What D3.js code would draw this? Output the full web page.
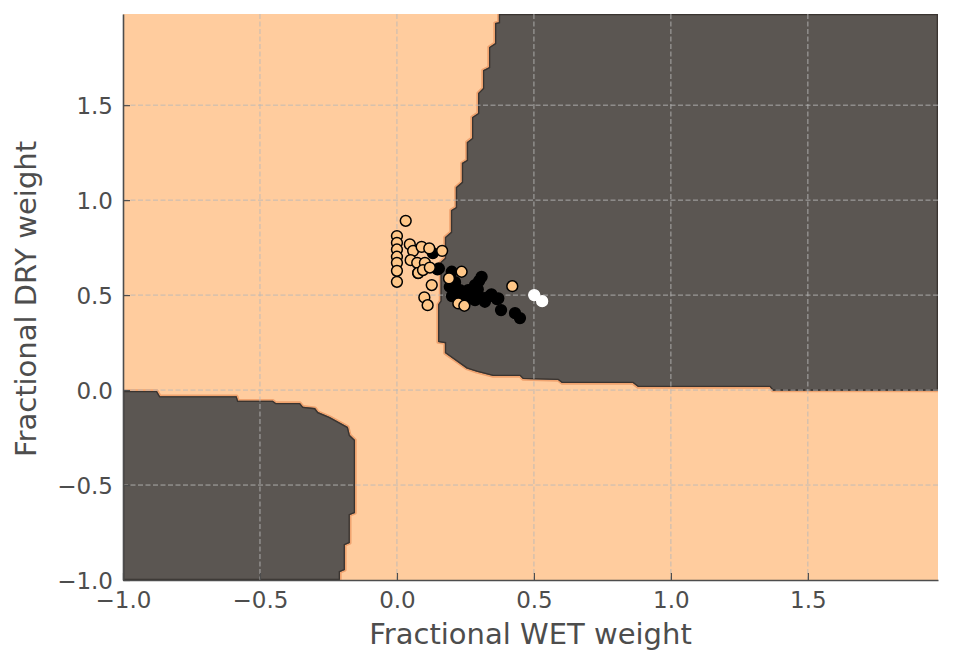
<!DOCTYPE html>
<html>
<head>
<meta charset="utf-8">
<script src="https://cdn.jsdelivr.net/npm/d3@7"></script>
<style>
  body { margin: 0; background: #fff; }
  text { font-family: "DejaVu Sans", sans-serif; fill: #4d4d4d; }
</style>
</head>
<body>
<svg width="953" height="665"></svg>
<script>
// decision regions (data units)
const upperRegion = [
  [0.372, 1.98], [0.372, 1.937], [0.358, 1.932], [0.358, 1.826], [0.336, 1.805],
  [0.336, 1.700], [0.314, 1.684], [0.314, 1.589], [0.296, 1.563], [0.296, 1.458],
  [0.274, 1.437], [0.274, 1.326], [0.255, 1.305], [0.255, 1.211], [0.237, 1.195],
  [0.237, 1.095], [0.215, 1.068], [0.215, 0.963], [0.197, 0.947], [0.197, 0.832],
  [0.175, 0.805], [0.175, 0.695], [0.159, 0.674], [0.159, 0.470], [0.150, 0.450],
  [0.150, 0.253], [0.175, 0.247], [0.175, 0.195], [0.254, 0.114], [0.291, 0.096],
  [0.351, 0.074], [0.449, 0.074], [0.460, 0.058], [0.588, 0.053], [0.602, 0.037],
  [0.861, 0.037], [0.880, 0.016], [1.361, 0.016], [1.372, -0.003], [1.975, -0.003],
  [1.975, 1.98]
];
const lowerRegion = [
  [-1, -1], [-1, -0.005], [-0.876, -0.005], [-0.865, -0.032], [-0.585, -0.032],
  [-0.580, -0.056], [-0.453, -0.056], [-0.442, -0.068], [-0.354, -0.068],
  [-0.343, -0.088], [-0.299, -0.095], [-0.288, -0.116], [-0.245, -0.142],
  [-0.179, -0.195], [-0.172, -0.237], [-0.153, -0.263], [-0.153, -0.647],
  [-0.172, -0.658], [-0.172, -0.805], [-0.190, -0.816], [-0.190, -0.947],
  [-0.208, -0.958], [-0.208, -1]
];

// samples: [wet, dry]
const blackPoints = [
  [0.077, 0.616], [0.131, 0.721], [0.148, 0.635], [0.153, 0.640], [0.200, 0.623],
  [0.193, 0.544], [0.212, 0.568], [0.201, 0.495], [0.224, 0.491], [0.230, 0.526],
  [0.242, 0.500], [0.248, 0.463], [0.255, 0.495], [0.260, 0.526], [0.285, 0.553],
  [0.285, 0.474], [0.291, 0.483], [0.300, 0.575], [0.309, 0.596], [0.318, 0.484],
  [0.321, 0.465], [0.339, 0.495], [0.345, 0.504], [0.365, 0.479], [0.370, 0.483],
  [0.380, 0.421], [0.431, 0.405], [0.449, 0.379], [0.270, 0.510], [0.295, 0.530]
];
const orangePoints = [
  [0.032, 0.891],
  [0.0, 0.811], [0.0, 0.775], [0.0, 0.740], [0.0, 0.702], [0.0, 0.670], [0.0, 0.628], [0.0, 0.570],
  [0.047, 0.767], [0.059, 0.733], [0.090, 0.754], [0.118, 0.746], [0.165, 0.733],
  [0.050, 0.684], [0.074, 0.670], [0.102, 0.670], [0.078, 0.617], [0.095, 0.632], [0.120, 0.645],
  [0.127, 0.553], [0.100, 0.488], [0.112, 0.447],
  [0.190, 0.588], [0.236, 0.623], [0.421, 0.547], [0.224, 0.456], [0.246, 0.444]
];
const whitePoints = [[0.501, 0.500], [0.530, 0.468]];

const xTicks = [-1.0, -0.5, 0.0, 0.5, 1.0, 1.5];
const yTicks = [-1.0, -0.5, 0.0, 0.5, 1.0, 1.5];
const xDomain = [-1, 1.975];
const yDomain = [-1, 1.98];

const svg = d3.select("svg");
const width = +svg.attr("width");
const height = +svg.attr("height");
const margin = { top: 14, right: 15, bottom: 85, left: 123 };
const innerWidth = width - margin.left - margin.right;
const innerHeight = height - margin.top - margin.bottom;

const xScale = d3.scaleLinear().domain(xDomain).range([0, innerWidth]);
const yScale = d3.scaleLinear().domain(yDomain).range([innerHeight, 0]);

const g = svg.append("g").attr("transform", `translate(${margin.left},${margin.top})`);

const defs = svg.append("defs");
defs.append("clipPath").attr("id", "plot-clip")
  .append("rect").attr("width", innerWidth).attr("height", innerHeight);

const line = d3.line().x(d => xScale(d[0])).y(d => yScale(d[1]));
const regionPath = pts => line(pts) + "Z";

const plotG = g.append("g").attr("clip-path", "url(#plot-clip)");

plotG.append("rect")
  .attr("width", innerWidth)
  .attr("height", innerHeight)
  .attr("fill", "#ffcc9e");

[upperRegion, lowerRegion].forEach((region, i) => {
  defs.append("clipPath").attr("id", `region-clip-${i}`)
    .append("path").attr("d", regionPath(region));

  plotG.append("path")
    .attr("d", regionPath(region))
    .attr("fill", "#5b5652")
    .attr("stroke", "#f0a36f")
    .attr("stroke-width", 3.4)
    .attr("stroke-linejoin", "round")
    .style("paint-order", "stroke");

  plotG.append("path")
    .attr("d", regionPath(region))
    .attr("fill", "none")
    .attr("stroke", "#3a3430")
    .attr("stroke-width", 2.6)
    .attr("clip-path", `url(#region-clip-${i})`);
});

// grid
const gridG = plotG.append("g")
  .attr("stroke", "#b8b8b8")
  .attr("stroke-opacity", 0.85)
  .attr("stroke-width", 1)
  .attr("stroke-dasharray", "5,2.5");

gridG.selectAll(".vgrid").data(xTicks.slice(1)).enter()
  .append("line")
  .attr("x1", d => xScale(d)).attr("x2", d => xScale(d))
  .attr("y1", 0).attr("y2", innerHeight);

gridG.selectAll(".hgrid").data(yTicks.slice(1)).enter()
  .append("line")
  .attr("y1", d => yScale(d)).attr("y2", d => yScale(d))
  .attr("x1", 0).attr("x2", innerWidth);

// points
const drawPoints = (pts, fill, stroke) => {
  g.append("g").selectAll("circle").data(pts).enter()
    .append("circle")
    .attr("cx", d => xScale(d[0]))
    .attr("cy", d => yScale(d[1]))
    .attr("r", 5.4)
    .attr("fill", fill)
    .attr("stroke", stroke)
    .attr("stroke-width", 1.5);
};
drawPoints(blackPoints, "#000", "#000");
drawPoints(orangePoints, "#ffc788", "#000");
drawPoints(whitePoints, "#fff", "#fff");

// axes
const fmt = d3.format(".1f");
const xAxis = d3.axisBottom(xScale)
  .tickValues(xTicks).tickFormat(fmt)
  .tickSizeInner(-7).tickSizeOuter(0).tickPadding(12);
const yAxis = d3.axisLeft(yScale)
  .tickValues(yTicks).tickFormat(fmt)
  .tickSizeInner(-7).tickSizeOuter(0).tickPadding(10);

const xAxisG = g.append("g").attr("transform", `translate(0,${innerHeight})`).call(xAxis);
const yAxisG = g.append("g").call(yAxis);

[xAxisG, yAxisG].forEach(ax => {
  ax.select(".domain").attr("stroke", "#4d4d4d").attr("stroke-width", 1.6);
  ax.selectAll(".tick line").attr("stroke", "#4d4d4d").attr("stroke-width", 1.2);
  ax.selectAll(".tick text")
    .attr("fill", "#4d4d4d")
    .style("font-size", "23px")
    .style("font-family", '"DejaVu Sans", sans-serif');
});
yAxisG.selectAll(".tick text").attr("dy", "0.35em");

g.append("text")
  .attr("x", innerWidth / 2)
  .attr("y", 644 - margin.top)
  .attr("text-anchor", "middle")
  .style("font-size", "29px")
  .text("Fractional WET weight");

g.append("text")
  .attr("transform", `translate(${36 - margin.left},${innerHeight / 2 + 2}) rotate(-90)`)
  .attr("text-anchor", "middle")
  .style("font-size", "29px")
  .text("Fractional DRY weight");
</script>
</body>
</html>
